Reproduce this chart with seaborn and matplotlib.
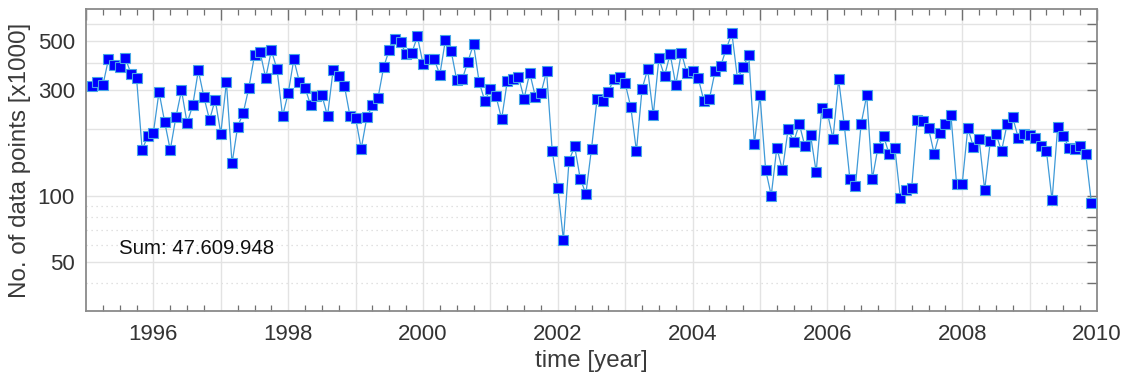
import numpy as np
import pandas as pd
import matplotlib
matplotlib.use("Agg")
import matplotlib.pyplot as plt
from matplotlib.ticker import MultipleLocator, FixedLocator, FuncFormatter, NullLocator
import seaborn as sns

# monthly counts [x1000], Feb 1995 .. Dec 2009
counts = [
    312, 327, 316, 414, 390, 381, 420, 357, 341, 161, 186, 193,
    295, 216, 161, 226, 300, 213, 256, 369, 279, 220, 272, 191,
    326, 140, 205, 237, 308, 432, 446, 341, 455, 374, 229, 291,
    414, 327, 308, 256, 282, 285, 229, 371, 348, 315, 229, 224,
    163, 226, 256, 278, 382, 458, 514, 496, 436, 442, 526, 396,
    414, 414, 353, 508, 453, 334, 337, 404, 486, 326, 269, 303,
    282, 222, 329, 339, 346, 275, 360, 281, 291, 365, 160, 108,
    63, 144, 167, 119, 102, 163, 275, 269, 295, 339, 346, 322,
    251, 159, 304, 373, 232, 418, 348, 438, 318, 444, 358, 367,
    341, 269, 275, 365, 386, 463, 543, 337, 382, 433, 171, 285,
    131, 100, 165, 130, 200, 175, 211, 167, 188, 128, 248, 237,
    181, 336, 209, 119, 111, 211, 284, 119, 165, 186, 154, 165,
    97, 106, 108, 219, 217, 202, 155, 193, 212, 231, 113, 113,
    202, 166, 181, 106, 176, 191, 159, 211, 226, 182, 190, 188,
    183, 167, 159, 95, 205, 186, 165, 163, 167, 154, 93,
]
months = list(range(1, len(counts) + 1))
start_year = 1995
time_year = [start_year + m / 12 for m in months]

sum_label = "Sum: 47.609.948"
x_label = "time [year]"
y_label = "No. of data points [x1000]"
y_major = [40, 50, 60, 70, 80, 90, 100, 200, 300, 400, 500, 600]
y_labeled = [50, 100, 300, 500]
y_solid_grid = [50, 100, 200, 300, 400, 500, 600]
y_dotted_grid = [40, 60, 70, 80, 90]

df = pd.DataFrame({"time": time_year, "count": counts})

sns.set_theme(style="white")
plt.rcParams["font.family"] = ["Liberation Sans", "DejaVu Sans"]

fig = plt.figure(figsize=(11.27, 3.85), dpi=100)
ax = fig.add_axes([86 / 1127, 1 - 311 / 385, (1097 - 86) / 1127, (311 - 9) / 385])

ax.set_yscale("log")
ax.set_xlim(1995, 2010)
ax.set_ylim(30, 700)

# grid
for v in y_solid_grid:
    ax.axhline(v, color="#e3e3e3", lw=1.0, zorder=0)
for v in y_dotted_grid:
    ax.axhline(v, color="#d8d8d8", lw=0.9, ls=(0, (1, 3)), zorder=0)
for yr in range(1996, 2010):
    ax.axvline(yr, color="#e3e3e3", lw=1.0, zorder=0)

sns.lineplot(data=df, x="time", y="count", ax=ax, color="#3f9ad8", lw=0.9,
             marker="s", markersize=6.6, markerfacecolor="#0000ff",
             markeredgecolor="#46a6e6", markeredgewidth=0.8, zorder=3)

ax.text(1995.49, 57.4, sum_label, fontsize=14.7, color="#111111", va="center", ha="left")

ax.xaxis.set_major_locator(MultipleLocator(1))
ax.xaxis.set_minor_locator(MultipleLocator(0.25))
ax.xaxis.set_major_formatter(FuncFormatter(lambda v, p: f"{int(round(v))}" if int(round(v)) % 2 == 0 else ""))
ax.yaxis.set_major_locator(FixedLocator(y_major))
ax.yaxis.set_minor_locator(NullLocator())
ax.yaxis.set_major_formatter(FuncFormatter(lambda v, p: f"{int(round(v))}" if int(round(v)) in y_labeled else ""))

ax.tick_params(axis="both", which="major", direction="in", length=8, width=1.0,
               color="#707070", labelsize=16, labelcolor="#333333",
               top=True, right=True)
ax.tick_params(axis="x", which="major", pad=9)
ax.tick_params(axis="y", which="major", length=7.5, pad=8)
ax.tick_params(axis="x", which="minor", direction="in", length=4.3, width=0.9,
               color="#707070", top=True, bottom=True)

for s in ax.spines.values():
    s.set_color("#8a8a8a")
    s.set_linewidth(1.3)
    s.set_visible(True)

ax.set_xlabel(x_label, fontsize=17.4, color="#3a3a3a", labelpad=4)
ax.set_ylabel(y_label, fontsize=17.4, color="#3a3a3a", labelpad=5)

fig.savefig("out.png", dpi=100)
